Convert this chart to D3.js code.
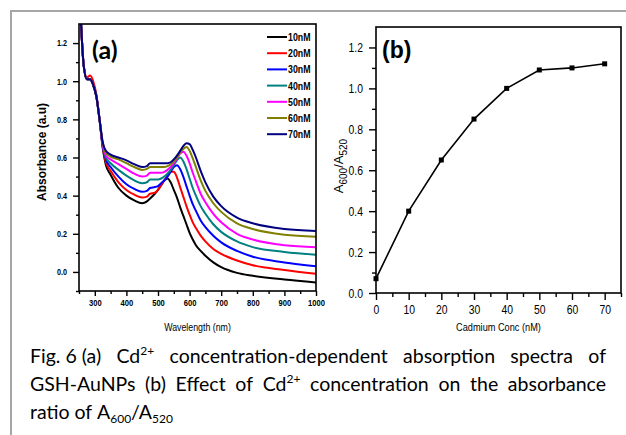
<!DOCTYPE html>
<html><head><meta charset="utf-8">
<script src="https://cdn.jsdelivr.net/npm/d3@7/dist/d3.min.js"></script>
<style>body{margin:0;background:#fff;overflow:hidden}</style>
</head><body>
<svg id="c" width="626" height="435" xmlns="http://www.w3.org/2000/svg"></svg>
<script>
// ---------- DATA ----------
const wavelengths = [255,265,275,285,295,305,315,325,335,350,375,400,425,450,465,475,490,500,510,520,530,540,550,560,570,580,590,600,610,620,635,650,675,700,750,800,900,1000];
const seriesNames = ["10nM","20nM","30nM","40nM","50nM","60nM","70nM"];
const abs10nM = [1.35,1.08,1.01,1.01,0.98,0.92,0.80,0.65,0.56,0.51,0.44,0.40,0.375,0.36,0.37,0.385,0.41,0.43,0.455,0.48,0.49,0.47,0.43,0.39,0.34,0.295,0.25,0.205,0.17,0.14,0.11,0.085,0.05,0.025,-0.005,-0.02,-0.04,-0.055];
const abs20nM = [1.35,1.08,1.02,1.03,1.00,0.93,0.80,0.66,0.575,0.53,0.47,0.43,0.405,0.39,0.395,0.41,0.415,0.43,0.455,0.48,0.505,0.525,0.525,0.495,0.445,0.395,0.345,0.30,0.26,0.23,0.19,0.16,0.12,0.095,0.06,0.035,0.01,-0.01];
const abs30nM = [1.35,1.08,1.01,1.01,0.98,0.92,0.80,0.66,0.59,0.55,0.50,0.46,0.435,0.42,0.425,0.44,0.445,0.45,0.465,0.48,0.50,0.525,0.55,0.56,0.54,0.50,0.45,0.40,0.355,0.32,0.27,0.235,0.19,0.155,0.11,0.08,0.05,0.03];
const abs40nM = [1.35,1.08,1.01,1.01,0.98,0.92,0.80,0.67,0.60,0.57,0.535,0.505,0.48,0.465,0.47,0.485,0.485,0.485,0.49,0.50,0.515,0.535,0.56,0.585,0.60,0.58,0.54,0.49,0.44,0.40,0.345,0.305,0.25,0.21,0.16,0.13,0.105,0.09];
const abs50nM = [1.35,1.08,1.01,1.01,0.98,0.92,0.80,0.67,0.61,0.59,0.565,0.54,0.515,0.50,0.505,0.52,0.52,0.52,0.52,0.525,0.535,0.55,0.57,0.595,0.62,0.63,0.61,0.57,0.52,0.475,0.41,0.365,0.305,0.26,0.20,0.17,0.14,0.13];
const abs60nM = [1.35,1.08,1.01,1.01,0.98,0.92,0.80,0.68,0.625,0.605,0.59,0.57,0.55,0.535,0.54,0.55,0.55,0.55,0.55,0.55,0.555,0.565,0.58,0.60,0.625,0.645,0.655,0.635,0.595,0.55,0.48,0.425,0.36,0.315,0.255,0.225,0.195,0.185];
const abs70nM = [1.35,1.08,1.01,1.01,0.98,0.92,0.80,0.68,0.635,0.615,0.60,0.585,0.565,0.55,0.555,0.57,0.57,0.57,0.57,0.57,0.57,0.575,0.59,0.61,0.635,0.66,0.675,0.67,0.64,0.60,0.53,0.47,0.395,0.345,0.285,0.255,0.225,0.215];
const spectra = [abs10nM, abs20nM, abs30nM, abs40nM, abs50nM, abs60nM, abs70nM];

const concentrations = [0,10,20,30,40,50,60,70];
const ratios = [0.07,0.40,0.65,0.85,1.00,1.09,1.10,1.12];

const aXTicks = [300,400,500,600,700,800,900,1000];
const aXMinor = [250,350,450,550,650,750,850,950];
const aYTicks = [0.0,0.2,0.4,0.6,0.8,1.0,1.2];
const aYMinor = [-0.1,0.1,0.3,0.5,0.7,0.9,1.1];
const bXTicks = [0,10,20,30,40,50,60,70];
const bXMinor = [5,15,25,35,45,55,65,75];
const bYTicks = [0.0,0.2,0.4,0.6,0.8,1.0,1.2];
const bYMinor = [0.1,0.3,0.5,0.7,0.9,1.1];

const seriesColors = ["#000000","#ff0000","#0000ff","#008080","#ff00ff","#808000","#000080"];

// ---------- DRAW ----------
const svg = d3.select("#c");
const SANS = "'Liberation Sans',Arial,sans-serif";
const SX = 0.8; // horizontal condensing for narrow labels

// outer frame
svg.append("path").attr("d","M11,435 L11,11 L626,11").attr("fill","none").attr("stroke","#a6a6a6").attr("stroke-width",2);

function narrowText(x, y, txt, fs, weight, anchor){
  return svg.append("text").attr("transform",`translate(${x},${y}) scale(${SX},1)`)
    .attr("text-anchor",anchor||"start").attr("font-family",SANS).attr("font-size",fs)
    .attr("font-weight",weight||"normal").attr("fill","#000").text(txt);
}

function styleAxis(g, fs, weight, side, off){
  g.select(".domain").remove();
  g.selectAll("line").attr("stroke","#000").attr("stroke-width",1.4);
  const t = g.selectAll("text").attr("font-size",fs).attr("font-family",SANS).attr("font-weight",weight).attr("fill","#000");
  if (side === "left") t.attr("x", -off/SX).attr("transform",`scale(${SX},1)`);
  else t.attr("transform",`scale(${SX},1)`);
}

// ===== Panel (a) =====
const A = {l:79, r:316, t:24, b:291};
const xa = d3.scaleLinear().domain([250,1000]).range([A.l,A.r]);
const ya = d3.scaleLinear().domain([-0.1,1.3]).range([A.b,A.t]);

svg.append("clipPath").attr("id","clipA").append("rect")
  .attr("x",A.l).attr("y",A.t).attr("width",A.r-A.l).attr("height",A.b-A.t);

const line = d3.line().x((d,i)=>xa(wavelengths[i])).y(d=>ya(d)).curve(d3.curveMonotoneX);
const gA = svg.append("g").attr("clip-path","url(#clipA)");
spectra.forEach((s,k)=>{
  gA.append("path").attr("d",line(s)).attr("fill","none")
    .attr("stroke",seriesColors[k]).attr("stroke-width",2);
});

const axA_x = svg.append("g").attr("transform",`translate(0,${A.b})`)
  .call(d3.axisBottom(xa).tickValues(aXTicks).tickSize(5).tickPadding(3).tickFormat(d3.format("d")));
styleAxis(axA_x, 9.5, "bold", "bottom");
const axA_xm = svg.append("g").attr("transform",`translate(0,${A.b})`)
  .call(d3.axisBottom(xa).tickValues(aXMinor).tickSize(3).tickFormat(""));
styleAxis(axA_xm, 9.5, "bold", "bottom");
const axA_y = svg.append("g").attr("transform",`translate(${A.l},0)`)
  .call(d3.axisLeft(ya).tickValues(aYTicks).tickSize(6).tickPadding(6).tickFormat(d3.format(".1f")));
styleAxis(axA_y, 9, "bold", "left", 12);
const axA_ym = svg.append("g").attr("transform",`translate(${A.l},0)`)
  .call(d3.axisLeft(ya).tickValues(aYMinor).tickSize(3).tickFormat(""));
styleAxis(axA_ym, 9, "bold", "left", 12);

svg.append("rect").attr("x",A.l).attr("y",A.t).attr("width",A.r-A.l).attr("height",A.b-A.t)
  .attr("fill","none").attr("stroke","#000").attr("stroke-width",1.6);

svg.append("text").attr("transform",`translate(46,152) rotate(-90)`).attr("text-anchor","middle")
  .attr("font-family",SANS).attr("font-weight","bold").attr("font-size",12).text("Absorbance (a.u)");
narrowText((A.l+A.r)/2, 331, "Wavelength (nm)", 11, "normal", "middle");
svg.append("text").attr("x",92).attr("y",59).attr("font-family","Lato,'Open Sans',sans-serif")
  .attr("font-weight","bold").attr("font-size",25).text("(a)");

// legend
seriesNames.forEach((n,k)=>{
  const yy = 37 + k*16.2;
  svg.append("line").attr("x1",267).attr("x2",287).attr("y1",yy).attr("y2",yy)
    .attr("stroke",seriesColors[k]).attr("stroke-width",2);
  narrowText(288, yy+4, n, 11, "bold", "start");
});

// ===== Panel (b) =====
const B = {l:376, r:621, t:27, b:293};
const xb = d3.scaleLinear().domain([0,75]).range([B.l,B.r]);
const yb = d3.scaleLinear().domain([0,1.3]).range([B.b,B.t]);

const axB_x = svg.append("g").attr("transform",`translate(0,${B.b})`)
  .call(d3.axisBottom(xb).tickValues(bXTicks).tickSize(7).tickPadding(5).tickFormat(d3.format("d")));
styleAxis(axB_x, 13, "normal", "bottom");
const axB_xm = svg.append("g").attr("transform",`translate(0,${B.b})`)
  .call(d3.axisBottom(xb).tickValues(bXMinor).tickSize(4).tickFormat(""));
styleAxis(axB_xm, 13, "normal", "bottom");
const axB_y = svg.append("g").attr("transform",`translate(${B.l},0)`)
  .call(d3.axisLeft(yb).tickValues(bYTicks).tickSize(7).tickPadding(6).tickFormat(d3.format(".1f")));
styleAxis(axB_y, 13, "normal", "left", 13);
const axB_ym = svg.append("g").attr("transform",`translate(${B.l},0)`)
  .call(d3.axisLeft(yb).tickValues(bYMinor).tickSize(4).tickFormat(""));
styleAxis(axB_ym, 13, "normal", "left", 13);

svg.append("rect").attr("x",B.l).attr("y",B.t).attr("width",B.r-B.l).attr("height",B.b-B.t)
  .attr("fill","none").attr("stroke","#000").attr("stroke-width",1.6);

const pts = concentrations.map((c,i)=>[c,ratios[i]]);
svg.append("path").attr("d",d3.line().x(d=>xb(d[0])).y(d=>yb(d[1]))(pts))
  .attr("fill","none").attr("stroke","#000").attr("stroke-width",1.6);
svg.selectAll(".mk").data(pts).enter().append("rect").attr("class","mk")
  .attr("x",d=>xb(d[0])-2.5).attr("y",d=>yb(d[1])-2.5).attr("width",5).attr("height",5).attr("fill","#000");

svg.append("text").attr("x",382).attr("y",58).attr("font-family",SANS)
  .attr("font-weight","bold").attr("font-size",23).text("(b)");

const yl = svg.append("text").attr("transform",`translate(343,166) rotate(-90)`).attr("text-anchor","middle")
  .attr("font-family",SANS).attr("font-size",13);
yl.append("tspan").text("A");
yl.append("tspan").attr("font-size",10).attr("baseline-shift","-4").text("600");
yl.append("tspan").text("/A");
yl.append("tspan").attr("font-size",10).attr("baseline-shift","-4").text("520");

narrowText((B.l+B.r)/2, 331, "Cadmium Conc (nM)", 11.5, "normal", "middle");

// ===== Caption =====
const CAPF = "Lato,'Open Sans',sans-serif";
const CAPS = 19.5;
function word(parts, y){
  const t = svg.append("text").attr("y",y).attr("font-family",CAPF).attr("font-size",CAPS).attr("fill","#000");
  parts.forEach(p=>{
    if (typeof p === "string") t.append("tspan").text(p);
    else if (p.sup) t.append("tspan").attr("font-size",12).attr("baseline-shift","8").text(p.sup);
    else if (p.sub) t.append("tspan").attr("font-size",12).attr("baseline-shift","-4").text(p.sub);
  });
  return t;
}
function justify(words, y, x0, x1, just){
  const els = words.map(w=>word(w,y));
  const widths = els.map(e=>e.node().getComputedTextLength());
  const total = d3.sum(widths);
  const gap = just ? (x1-x0-total)/(words.length-1) : CAPS*0.25;
  let x = x0;
  els.forEach((e,i)=>{ e.attr("x",x); x += widths[i] + gap; });
}
justify([["Fig. 6 (a)"],["Cd",{sup:"2+"}],["concentration-dependent"],["absorption"],["spectra"],["of"]], 363, 30, 606, true);
justify([["GSH-AuNPs"],["(b)"],["Effect"],["of"],["Cd",{sup:"2+"}],["concentration"],["on"],["the"],["absorbance"]], 391, 30, 606, true);
justify([["ratio"],["of"],["A",{sub:"600"},"/A",{sub:"520"}]], 419, 30, 606, false);
</script>
</body></html>
